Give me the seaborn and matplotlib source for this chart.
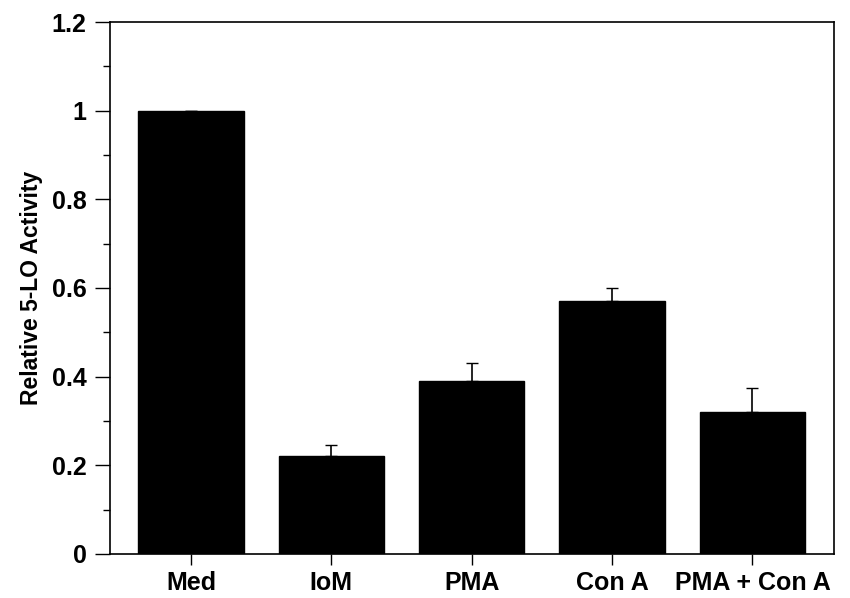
import matplotlib
matplotlib.use("Agg")
import matplotlib.pyplot as plt
import seaborn as sns
import pandas as pd
import numpy as np
from matplotlib.ticker import MultipleLocator

categories = ["Med", "IoM", "PMA", "Con A", "PMA + Con A"]
values = [1.0, 0.22, 0.39, 0.57, 0.32]
errors = [0.0, 0.025, 0.04, 0.03, 0.055]

sns.set_theme(style="ticks")
plt.rcParams['font.family'] = ['Liberation Sans', 'DejaVu Sans']
plt.rcParams.update({"text.color": "black", "axes.labelcolor": "black",
                     "xtick.color": "black", "ytick.color": "black",
                     "axes.edgecolor": "black"})

df = pd.DataFrame({"cat": categories, "val": values})

fig = plt.figure(figsize=(8.5, 5.98), dpi=100)
ax = fig.add_axes([0.1294, 0.0736, 0.8516, 0.8896])

sns.barplot(data=df, x="cat", y="val", color="black", width=0.75,
            saturation=1, ax=ax, errorbar=None, edgecolor="black")
xs = np.arange(len(categories))
ax.errorbar(xs, values, yerr=[np.zeros(len(errors)), errors], fmt="none",
            ecolor="black", elinewidth=1.2, capsize=4, capthick=1.0)

ax.set_ylim(0, 1.2)
ax.set_xlim(-0.577, 4.58)
ax.yaxis.set_major_locator(MultipleLocator(0.2))
ax.yaxis.set_minor_locator(MultipleLocator(0.1))
ax.set_yticks([0, 0.2, 0.4, 0.6, 0.8, 1.0, 1.2])
ax.set_yticklabels(["0", "0.2", "0.4", "0.6", "0.8", "1", "1.2"])

for s in ax.spines.values():
    s.set_visible(True)
    s.set_linewidth(1.2)
    s.set_color("black")

ax.tick_params(axis="y", which="major", length=11, width=1, direction="out",
               labelsize=18, pad=6, colors="black")
ax.tick_params(axis="y", which="minor", length=5, width=1, direction="out",
               colors="black")
ax.tick_params(axis="x", which="major", length=8, width=1, direction="out",
               labelsize=18, pad=4, colors="black")
for lbl in ax.get_xticklabels() + ax.get_yticklabels():
    lbl.set_fontweight("bold")

ax.set_xlabel("")
ax.set_ylabel("Relative 5-LO Activity", fontsize=16.5, fontweight="bold",
              labelpad=6, color="black")

fig.savefig("out.png", dpi=100, facecolor="white")
